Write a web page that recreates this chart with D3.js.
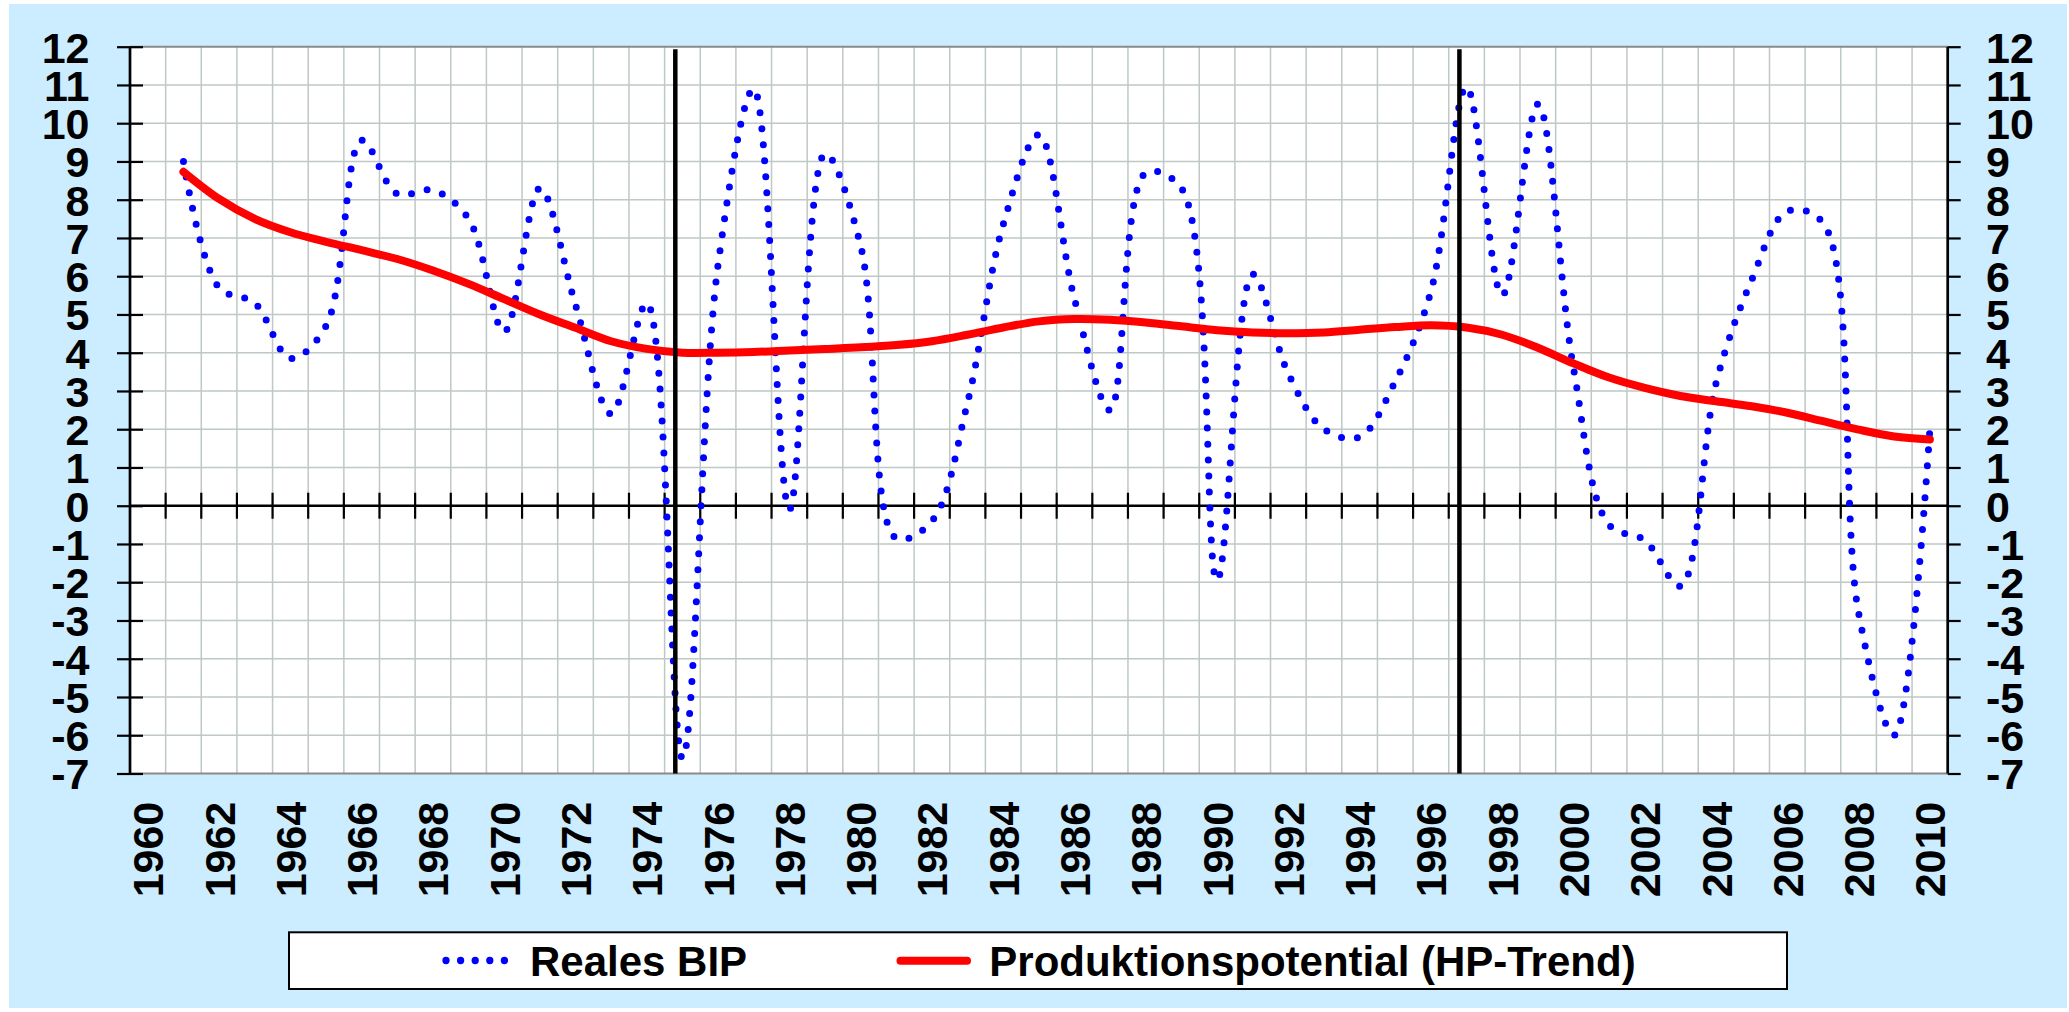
<!DOCTYPE html>
<html><head><meta charset="utf-8">
<script src="https://cdn.jsdelivr.net/npm/d3@7"></script>
<style>body{margin:0;background:#fff}svg{display:block}</style>
</head><body><svg id="c" width="2069" height="1012"></svg>
<script>
// categories (years on the category axis)
const years = [1960,1961,1962,1963,1964,1965,1966,1967,1968,1969,
  1970,1971,1972,1973,1974,1975,1976,1977,1978,1979,
  1980,1981,1982,1983,1984,1985,1986,1987,1988,1989,
  1990,1991,1992,1993,1994,1995,1996,1997,1998,1999,
  2000,2001,2002,2003,2004,2005,2006,2007,2008,2009,2010];
// data years 1961..2010
const dataYears = years.slice(1);
const realesBIP = [9.0,5.7,5.3,3.85,4.7,9.55,8.15,8.25,7.5,4.55,
  8.3,5.25,2.4,5.3,-6.6,6.3,10.9,-0.1,9.2,6.8,
  -0.85,-0.4,2.7,7.35,9.7,5.4,2.5,8.7,8.3,-1.95,
  6.05,3.45,2.0,1.8,3.25,5.6,10.95,5.5,10.5,3.6,
  -0.5,-0.9,-2.1,3.2,5.9,7.7,7.4,-2.8,-6.0,2.0];
const hpTrend = [8.73,8.02,7.5,7.15,6.9,6.68,6.45,6.15,5.8,5.4,
  5.0,4.65,4.3,4.1,4.0,4.0,4.02,4.06,4.1,4.14,
  4.2,4.3,4.47,4.66,4.82,4.88,4.86,4.79,4.69,4.59,
  4.53,4.51,4.53,4.6,4.67,4.72,4.66,4.47,4.13,3.72,
  3.35,3.08,2.87,2.73,2.6,2.43,2.21,1.99,1.81,1.73];
const yTicks = [12,11,10,9,8,7,6,5,4,3,2,1,0,-1,-2,-3,-4,-5,-6,-7];
const xLabelYears = years.filter(y => (y - 1960) % 2 === 0);
const breakYears = [1975, 1997];
const seriesNames = ["Reales BIP", "Produktionspotential (HP-Trend)"];

const FONT = "'Liberation Sans', Arial, Helvetica, sans-serif";
const svg = d3.select("#c");
const L = 130, R = 1947.7, T = 46.7, B = 773.5;

const x = d3.scaleBand().domain(years).range([L, R]).padding(0);
const bw = x.bandwidth();
const cx = yr => x(yr) + bw / 2;
const y = d3.scaleLinear().domain([-7, 12]).range([B, T]);

// background
svg.append("rect").attr("x", 9).attr("y", 4).attr("width", 2058).attr("height", 1004).attr("fill", "#CCECFF");
svg.append("rect").attr("x", L).attr("y", T).attr("width", R - L).attr("height", B - T).attr("fill", "#fff");

// gridlines
const grid = svg.append("g").attr("stroke", "#BEC8C6").attr("stroke-width", 1.5);
grid.selectAll(".hg").data(yTicks.filter(v => v !== 12 && v !== -7 && v !== 0)).join("line")
  .attr("x1", L).attr("x2", R).attr("y1", d => y(d)).attr("y2", d => y(d));
grid.selectAll(".vg").data(years.slice(1)).join("line")
  .attr("x1", d => x(d)).attr("x2", d => x(d)).attr("y1", T).attr("y2", B);
// top & bottom plot border
svg.append("line").attr("x1", L).attr("x2", R).attr("y1", y(12)).attr("y2", y(12)).attr("stroke", "#8a8a8a").attr("stroke-width", 2);
svg.append("line").attr("x1", L).attr("x2", R).attr("y1", y(-7)).attr("y2", y(-7)).attr("stroke", "#8a8a8a").attr("stroke-width", 2);

// zero axis with crossing ticks
const xAxisG = svg.append("g").attr("transform", `translate(0,${y(0)})`);
xAxisG.append("line").attr("x1", L).attr("x2", R).attr("stroke", "#000").attr("stroke-width", 2.5);
xAxisG.selectAll("line.t").data(years.slice(1)).join("line").attr("class", "t")
  .attr("x1", d => x(d)).attr("x2", d => x(d)).attr("y1", -13).attr("y2", 13)
  .attr("stroke", "#000").attr("stroke-width", 2.2);

// left axis
const leftAxis = d3.axisLeft(y).tickValues(yTicks).tickFormat(d => String(d)).tickSize(0).tickPadding(0);
const lg = svg.append("g").attr("transform", `translate(${L},0)`).call(leftAxis);
lg.select(".domain").remove();
lg.selectAll(".tick text").remove();
lg.append("line").attr("y1", T).attr("y2", B).attr("stroke", "#000").attr("stroke-width", 2.7);
lg.selectAll(".tick").append("line").attr("x1", -13).attr("x2", 13).attr("stroke", "#000").attr("stroke-width", 2.2);
lg.selectAll(".tick").append("text").attr("x", 89.5 - L).attr("dy", "0.36em")
  .attr("text-anchor", "end").attr("fill", "#000")
  .style("font", `bold 43px ${FONT}`).text(d => String(d));

// right axis
const rightAxis = d3.axisRight(y).tickValues(yTicks).tickFormat(d => String(d)).tickSize(0).tickPadding(0);
const rg = svg.append("g").attr("transform", `translate(${R},0)`).call(rightAxis);
rg.select(".domain").remove();
rg.selectAll(".tick text").remove();
rg.append("line").attr("y1", T).attr("y2", B).attr("stroke", "#000").attr("stroke-width", 2.7);
rg.selectAll(".tick").append("line").attr("x1", 0).attr("x2", 13).attr("stroke", "#000").attr("stroke-width", 2.2);
rg.selectAll(".tick").append("text").attr("x", 1986 - R).attr("dy", "0.36em")
  .attr("text-anchor", "start").attr("fill", "#000")
  .style("font", `bold 43px ${FONT}`).text(d => String(d));

// x labels (rotated)
svg.append("g").selectAll("text").data(xLabelYears).join("text")
  .attr("transform", d => `translate(${cx(d)},801.7) rotate(-90)`)
  .attr("dy", "0.36em").attr("text-anchor", "end").attr("fill", "#000")
  .style("font", `bold 43px ${FONT}`).text(d => String(d));

// series
const line = d3.line().x(d => cx(d[0])).y(d => y(d[1])).curve(d3.curveCatmullRom.alpha(0.5));
svg.append("path").datum(dataYears.map((yr, i) => [yr, realesBIP[i]]))
  .attr("d", line).attr("fill", "none").attr("stroke", "#0000FF")
  .attr("stroke-width", 7).attr("stroke-linecap", "round").attr("stroke-dasharray", "0 16");
svg.append("path").datum(dataYears.map((yr, i) => [yr, hpTrend[i]]))
  .attr("d", line).attr("fill", "none").attr("stroke", "#FF0000")
  .attr("stroke-width", 8).attr("stroke-linecap", "round").attr("stroke-linejoin", "round");

// break lines
svg.append("g").selectAll("line").data(breakYears).join("line")
  .attr("x1", d => x(d) + bw * 0.3).attr("x2", d => x(d) + bw * 0.3)
  .attr("y1", 49.3).attr("y2", B).attr("stroke", "#000").attr("stroke-width", 4.5);

// legend
const leg = svg.append("g");
leg.append("rect").attr("x", 289).attr("y", 932.3).attr("width", 1498).attr("height", 56.7)
  .attr("fill", "#fff").attr("stroke", "#000").attr("stroke-width", 2);
leg.append("line").attr("x1", 446).attr("x2", 504.5).attr("y1", 960.5).attr("y2", 960.5)
  .attr("stroke", "#0000FF").attr("stroke-width", 7.3).attr("stroke-linecap", "round").attr("stroke-dasharray", "0 14.6");
leg.append("text").attr("x", 530).attr("y", 975.7).attr("fill", "#000")
  .style("font", `bold 42px ${FONT}`).text(seriesNames[0]);
leg.append("line").attr("x1", 900.5).attr("x2", 967).attr("y1", 960.7).attr("y2", 960.7)
  .attr("stroke", "#FF0000").attr("stroke-width", 8).attr("stroke-linecap", "round");
leg.append("text").attr("x", 989.3).attr("y", 975.7).attr("fill", "#000")
  .style("font", `bold 42px ${FONT}`).text(seriesNames[1]);
</script>
</body></html>
